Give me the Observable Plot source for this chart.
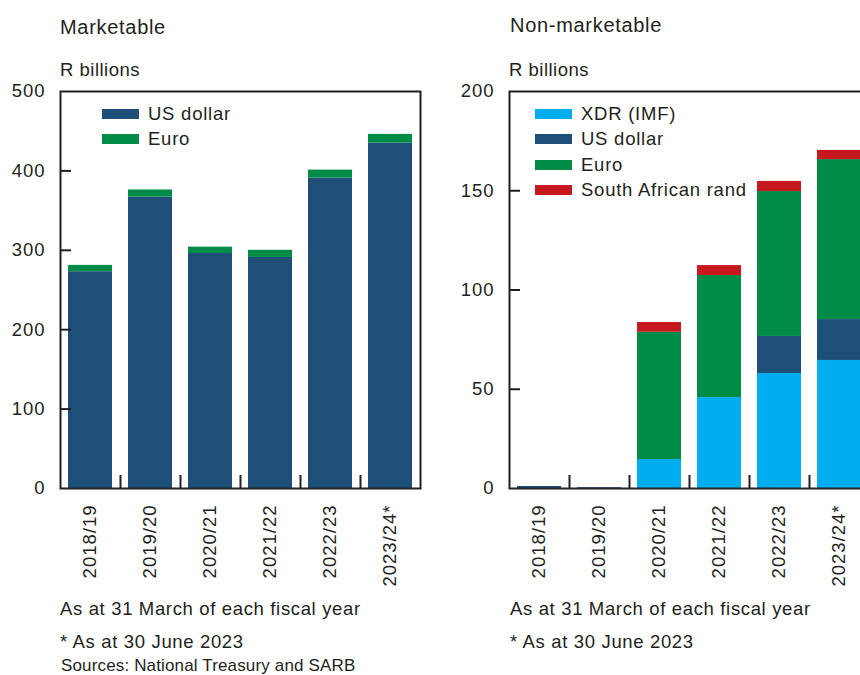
<!DOCTYPE html>
<html>
<head>
<meta charset="utf-8">
<script src="https://cdn.jsdelivr.net/npm/d3@7"></script>
<script src="https://cdn.jsdelivr.net/npm/@observablehq/plot@0.6"></script>
<style>
  html, body { margin: 0; padding: 0; background: #fff; }
  body { width: 860px; height: 675px; overflow: hidden; position: relative;
         font-family: "Liberation Sans", Arial, sans-serif; color: #231f20; }
  .abs { position: absolute; white-space: nowrap; line-height: normal; }
  .title { font-size: 20px; letter-spacing: 0.7px; }
  .unit { font-size: 18.5px; letter-spacing: 0.5px; }
  .note { font-size: 18.5px; letter-spacing: 0.65px; }
  .src { font-size: 17px; letter-spacing: 0.15px; line-height: 18px; }
  .legend { position: absolute; font-size: 18.5px; letter-spacing: 0.75px; }
  .legend .row { display: flex; align-items: center; height: 25.5px; }
  .legend .sw { width: 37px; height: 10px; margin-right: 9px; flex: none; }
  .panel { position: absolute; }
  .panel svg { max-width: none !important; display: block; }
</style>
</head>
<body>
<div class="abs title" style="left:60px; top:16px;">Marketable</div>
<div class="abs unit" style="left:60px; top:59px;">R billions</div>
<div class="abs title" style="left:510px; top:13.5px;">Non-marketable</div>
<div class="abs unit" style="left:509px; top:59px;">R billions</div>

<div id="left" class="panel" style="left:0px; top:80px; width:423px;"></div>
<div id="right" class="panel" style="left:449px; top:80px; width:423px;"></div>

<div id="legendLeft" class="legend" style="left:102px; top:101px;"></div>
<div id="legendRight" class="legend" style="left:535px; top:101px;"></div>

<div class="abs note" style="left:60px; top:598px;">As at 31 March of each fiscal year</div>
<div class="abs note" style="left:60px; top:630.5px;">* As at 30 June 2023</div>
<div class="abs src" style="left:61px; top:656.5px;">Sources: National Treasury and SARB</div>
<div class="abs note" style="left:510px; top:598px;">As at 31 March of each fiscal year</div>
<div class="abs note" style="left:510px; top:630.5px;">* As at 30 June 2023</div>

<script>
// Fiscal years (as at 31 March; last one as at 30 June 2023)
const years = ["2018/19", "2019/20", "2020/21", "2021/22", "2022/23", "2023/24*"];

// Marketable foreign-currency debt, R billions
const marketableCurrencies = ["US dollar", "Euro"];
const marketableUSD  = [273, 367, 296, 291, 391, 435];
const marketableEuro = [8, 9, 8, 9, 10, 11];

// Non-marketable debt, R billions
const nonMarketableCurrencies = ["XDR (IMF)", "US dollar", "Euro", "South African rand"];
const nonMarketableXDR  = [0, 0, 14.6, 45.8, 57.9, 64.5];
const nonMarketableUSD  = [1, 0.4, 0, 0, 18.7, 20.6];
const nonMarketableEuro = [0, 0, 64.1, 61.5, 73, 80.6];
const nonMarketableZAR  = [0, 0, 4.9, 5, 5.1, 4.6];

// Axis ticks
const marketableTicks = [0, 100, 200, 300, 400, 500];
const nonMarketableTicks = [0, 50, 100, 150, 200];

const colors = {
  "US dollar": "#1e4f79",
  "Euro": "#008c47",
  "XDR (IMF)": "#00aeef",
  "South African rand": "#c8181f"
};

function toRows(currencies, series) {
  const rows = [];
  years.forEach((year, i) => {
    currencies.forEach((c, j) => rows.push({year, currency: c, value: series[j][i]}));
  });
  return rows;
}

const ink = "#231f20";
const plotW = 360, plotH = 397;

function panel(rows, currencies, ticks, maxY) {
  const marginLeft = 60, marginRight = 3, marginTop = 11, marginBottom = 100;
  return Plot.plot({
    width: marginLeft + plotW + marginRight,
    height: marginTop + plotH + marginBottom,
    marginLeft, marginRight, marginTop, marginBottom,
    style: {fontFamily: "Liberation Sans, Arial, sans-serif", fontSize: "18.5px", color: ink,
            background: "white", overflow: "visible", maxWidth: "none", letterSpacing: "1px"},
    x: {domain: years, paddingInner: 0.27, paddingOuter: 0.135, label: null},
    y: {domain: [0, maxY], label: null},
    color: {domain: currencies, range: currencies.map(c => colors[c])},
    marks: [
      Plot.barY(rows, {x: "year", y: "value", fill: "currency", order: currencies}),
      Plot.frame({stroke: ink, strokeWidth: 2}),
      // value labels on the left
      Plot.axisY(ticks, {tickSize: 0, tickPadding: 15, label: null, fill: ink}),
      // short inward ticks on the left edge
      Plot.axisY(ticks.slice(1, -1), {tickSize: -11, tickFormat: () => "", label: null, stroke: ink, strokeWidth: 2}),
      // year labels, rotated
      Plot.axisX(years, {tickSize: 0, tickPadding: 16, tickRotate: -90, label: null, fill: ink}),
      // inward ticks on the boundaries between years
      Plot.axisX(years.slice(1), {tickSize: -13, dx: -plotW / years.length / 2, tickFormat: () => "", label: null, stroke: ink, strokeWidth: 2})
    ]
  });
}

document.getElementById("left").append(
  panel(toRows(marketableCurrencies, [marketableUSD, marketableEuro]), marketableCurrencies, marketableTicks, 500)
);
document.getElementById("right").append(
  panel(toRows(nonMarketableCurrencies, [nonMarketableXDR, nonMarketableUSD, nonMarketableEuro, nonMarketableZAR]), nonMarketableCurrencies, nonMarketableTicks, 200)
);

function legend(id, currencies) {
  const el = document.getElementById(id);
  currencies.forEach(c => {
    const row = document.createElement("div");
    row.className = "row";
    const sw = document.createElement("span");
    sw.className = "sw";
    sw.style.background = colors[c];
    const label = document.createElement("span");
    label.textContent = c;
    row.append(sw, label);
    el.append(row);
  });
}
legend("legendLeft", marketableCurrencies);
legend("legendRight", nonMarketableCurrencies);
</script>
</body>
</html>
